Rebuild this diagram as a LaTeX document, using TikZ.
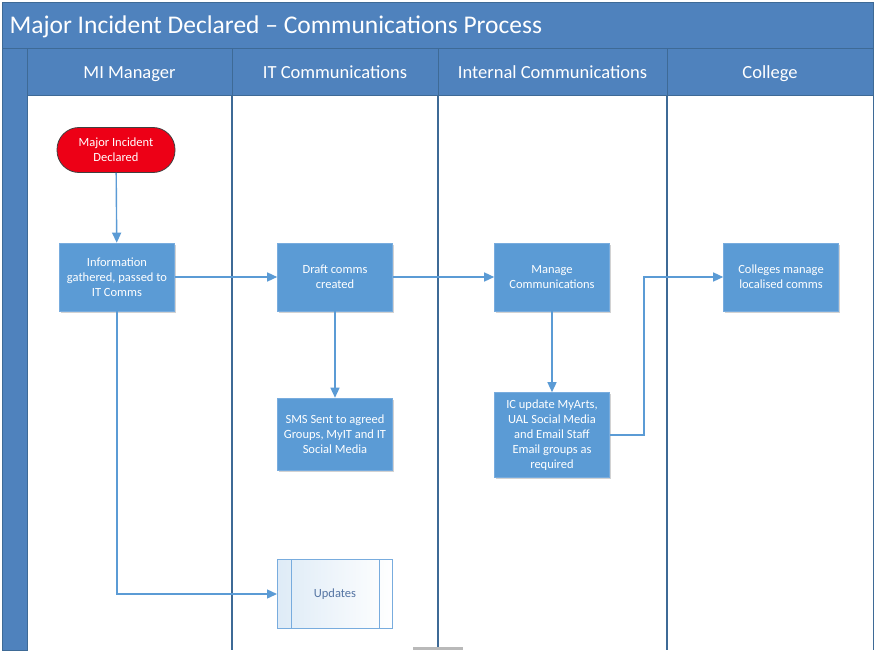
\documentclass[tikz,border=0pt]{standalone}
\usepackage{fontspec}
\setmainfont{Carlito}
\usetikzlibrary{arrows.meta,shadows,positioning}

\definecolor{laneblue}{RGB}{79,130,189}
\definecolor{laneline}{RGB}{62,106,150}
\definecolor{stepblue}{RGB}{91,155,213}
\definecolor{stepedge}{RGB}{120,172,222}
\definecolor{incred}{RGB}{237,0,22}
\definecolor{updtext}{RGB}{84,116,163}

\tikzset{
  lanehead/.style={draw=laneline, fill=laneblue, line width=0.8pt},
  lanetext/.style={text=white, anchor=base, font=\fontsize{18.5}{22}\selectfont},
  procbox/.style={draw=stepedge, fill=stepblue, text=white, line width=0.6pt,
    minimum width=115pt, minimum height=68pt, align=center, inner sep=2pt,
    font=\fontsize{12.5}{15}\selectfont,
    drop shadow={opacity=0.35, shadow xshift=1.5pt, shadow yshift=-1.5pt}},
  startbox/.style={draw=black!75, fill=incred, text=white, line width=0.8pt,
    rounded corners=22pt, minimum width=118pt, minimum height=45pt, align=center,
    font=\fontsize{12.5}{15}\selectfont},
  flow/.style={draw=stepblue, line width=1.4pt, -{Triangle[length=10pt,width=9pt]}}
}

\begin{document}
\begin{tikzpicture}[x=1pt,y=-1pt]
    \useasboundingbox (0,0) rectangle (877,650);

    % frame and title
    \fill[white] (0,0) rectangle (877,650);
    \draw[lanehead] (2,2) rectangle (873,48);
    \node[anchor=base west, text=white, font=\fontsize{25.5}{30}\selectfont] (title) at (6,34) {Major Incident Declared – Communications Process};
    \draw[lanehead] (2,48) rectangle (27,650);
    \draw[laneline, line width=0.8pt] (873,48) -- (873,650);

    % lanes
    \foreach \xa/\xb/\name/\txt in {27/232/mi/MI Manager, 232/438/it/IT Communications, 438/667/ic/Internal Communications, 667/873/col/College}{
        \draw[lanehead] (\xa,48) rectangle (\xb,95);
        \node[lanetext] (head-\name) at ({(\xa+\xb)/2},79) {\txt};
    }
    \foreach \x in {232,438,667}{
        \draw[laneline, line width=1.4pt] (\x,95) -- (\x,650);
    }

    % steps
    \node[startbox] (declared) at (116,150) {Major Incident\\Declared};
    \node[procbox] (info) at (117,277) {Information\\gathered, passed to\\IT Comms};
    \node[procbox] (draft) at (335,277) {Draft comms\\created};
    \node[procbox] (manage) at (552,277) {Manage\\Communications};
    \node[procbox] (colleges) at (781,277) {Colleges manage\\localised comms};
    \node[procbox, minimum height=72pt] (sms) at (335,434) {SMS Sent to agreed\\Groups, MyIT and IT\\Social Media};
    \node[procbox, minimum height=85pt] (icupdate) at (552,435) {IC update MyArts,\\UAL Social Media\\and Email Staff\\Email groups as\\required};
    \node[draw=stepedge, line width=1pt, left color=stepblue!20, right color=white,
          minimum width=115pt, minimum height=69pt, text=updtext,
          font=\fontsize{12.5}{15}\selectfont] (updates) at (335,594) {Updates};
    \draw[stepedge, line width=1pt] ([xshift=14pt]updates.north west) -- ([xshift=14pt]updates.south west);
    \draw[stepedge, line width=1pt] ([xshift=-14pt]updates.north east) -- ([xshift=-14pt]updates.south east);

    % connectors
    \draw[flow] (declared) -- (info);
    \draw[flow] (info) -- (draft);
    \draw[flow] (draft) -- (manage);
    \draw[flow] (draft) -- (sms);
    \draw[flow] (manage) -- (icupdate);
    \draw[flow] (icupdate.east) -- ++(34,0) |- (colleges.west);
    \draw[flow] (info.south) |- (updates.west);

    % tab at the bottom
    \fill[gray!55] (413,647) rectangle (463,650);
\end{tikzpicture}
\end{document}
